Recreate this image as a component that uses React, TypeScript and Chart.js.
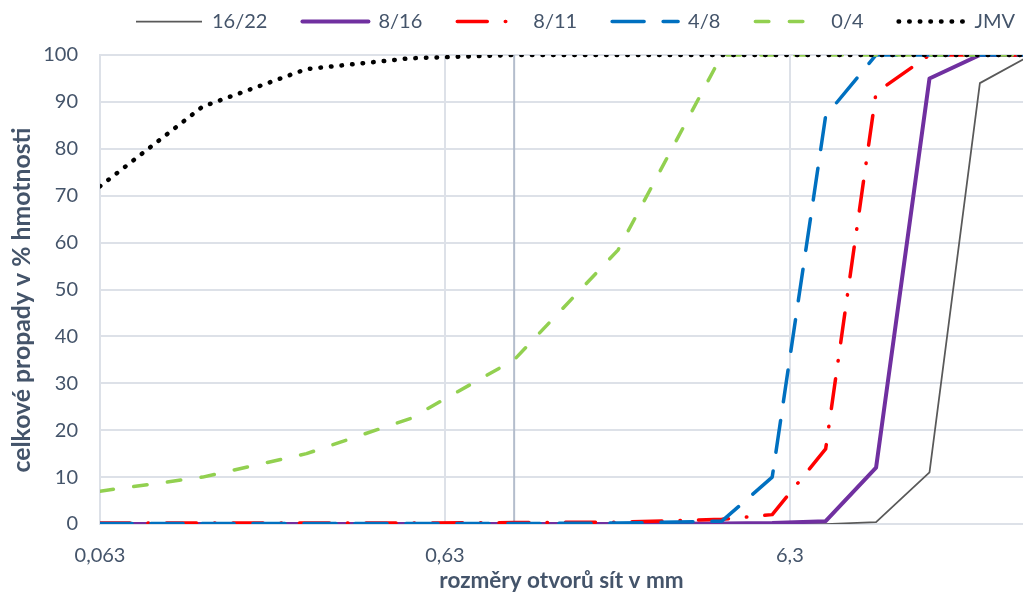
import React, { useEffect, useRef } from 'react';
import { Chart, registerables } from 'chart.js';

Chart.register(...registerables);

// sieve sizes (mm)
const sieves = [0.063, 0.125, 0.25, 0.5, 1, 2, 4, 5.6, 8, 11.2, 16, 22.4, 31.5];
// cumulative passing (%)
const s16_22 = [0, 0, 0, 0, 0, 0, 0, 0, 0, 0.4, 11, 94, 100];
const s8_16 = [0, 0, 0, 0, 0, 0, 0.1, 0.2, 0.6, 12, 95, 100, 100];
const s8_11 = [0.2, 0.2, 0.2, 0.2, 0.3, 0.4, 1.0, 2, 16, 92, 100, 100, 100];
const s4_8 = [0.1, 0.1, 0.1, 0.1, 0.1, 0.2, 0.6, 10, 87, 100, 100, 100, 100];
const s0_4 = [7, 10, 15, 22.5, 35, 58.4, 100, 100, 100, 100, 100, 100, 100];
const jmv = [72, 89, 97, 99.3, 100, 100, 100, 100, 100, 100, 100, 100, 100];

const xTicks = [0.063, 0.63, 6.3];
const xTickLabels = ['0,063', '0,63', '6,3'];
const xMin = 0.063;
const xMax = 29.87;
const refLineValue = 1;

const X_TITLE = 'rozměry otvorů sít v mm';
const Y_TITLE = 'celkové propady v % hmotnosti';

const TEXT = '#44546a';
const GRID = '#dde1e8';
const FONT = 'Lato';

const pts = (arr: number[]) => sieves.map((s, i) => ({ x: s, y: arr[i] }));

function fitBoldSize(text: string, target: number): number {
  const c = document.createElement('canvas').getContext('2d')!;
  c.font = `bold 20px ${FONT}`;
  const w = c.measureText(text).width;
  return Math.round((20 * target / w) * 10) / 10;
}

const refLinePlugin = {
  id: 'refLine',
  beforeDatasetsDraw(chart: any) {
    const x = chart.scales.x.getPixelForValue(refLineValue);
    const { top, bottom } = chart.chartArea;
    const ctx = chart.ctx;
    ctx.save();
    ctx.strokeStyle = '#b4bdcc';
    ctx.lineWidth = 2;
    ctx.beginPath();
    ctx.moveTo(x, top);
    ctx.lineTo(x, bottom);
    ctx.stroke();
    ctx.restore();
  },
};

const LEGEND_PAD = 35;
const legendPlace = {
  id: 'legendPlace',
  afterLayout(chart: any) {
    const l = chart.legend;
    if (!l) return;
    const h = l.bottom - l.top;
    l.left = 136 - LEGEND_PAD;
    l.right = l.left + 2000;
    l.top = 21.5 - LEGEND_PAD - 10;
    l.bottom = l.top + h;
  },
};

export default function App() {
  const ref = useRef<HTMLCanvasElement>(null);
  useEffect(() => {
    document.body.style.margin = '0';
    Chart.defaults.font.family = FONT;
    Chart.defaults.color = TEXT;
    const xTitleSize = fitBoldSize(X_TITLE, 244);
    const yTitleSize = fitBoldSize(Y_TITLE, 345);
    const yTitlePlugin = {
      id: 'yTitle',
      afterDraw(chart: any) {
        const ctx = chart.ctx;
        ctx.save();
        ctx.translate(22, 300);
        ctx.rotate(-Math.PI / 2);
        ctx.font = `bold ${yTitleSize}px ${FONT}`;
        ctx.fillStyle = TEXT;
        ctx.textAlign = 'center';
        ctx.textBaseline = 'middle';
        ctx.fillText(Y_TITLE, 0, 0);
        ctx.restore();
      },
    };
    const common = { pointRadius: 0, pointHoverRadius: 0, tension: 0, fill: false, borderJoinStyle: 'round' as const };
    const chart = new Chart(ref.current!, {
      type: 'line',
      data: {
        datasets: [
          { ...common, label: 'JMV', data: pts(jmv), borderColor: '#000000', backgroundColor: '#000000', borderWidth: 4.5, borderDash: [0.5, 10.1], borderCapStyle: 'round' },
          { ...common, label: '0/4', data: pts(s0_4), borderColor: '#92d050', backgroundColor: '#92d050', borderWidth: 3.5, borderDash: [13.5, 20.5], borderCapStyle: 'round' },
          { ...common, label: '4/8', data: pts(s4_8), borderColor: '#0070c0', backgroundColor: '#0070c0', borderWidth: 3.5, borderDash: [32, 19], borderCapStyle: 'round' },
          { ...common, label: '8/11', data: pts(s8_11), borderColor: '#ff0000', backgroundColor: '#ff0000', borderWidth: 3.5, borderDash: [30, 18, 0.5, 18], borderCapStyle: 'round' },
          { ...common, label: '8/16', data: pts(s8_16), borderColor: '#7030a0', backgroundColor: '#7030a0', borderWidth: 4, borderCapStyle: 'round' },
          { ...common, label: '16/22', data: pts(s16_22), borderColor: '#595959', backgroundColor: '#595959', borderWidth: 1.75, borderCapStyle: 'butt' },
        ],
      },
      options: {
        responsive: false,
        animation: false,
        events: [],
        layout: { padding: { top: 55 - (20 + LEGEND_PAD + 10), left: 0, right: 0, bottom: 0 } },
        plugins: {
          tooltip: { enabled: false },
          legend: {
            position: 'top',
            align: 'start',
            reverse: true,
            labels: {
              usePointStyle: true,
              pointStyle: 'line',
              pointStyleWidth: 66,
              padding: LEGEND_PAD,
              color: TEXT,
              font: { family: FONT, size: 20 },
              generateLabels: (chart: any) =>
                chart.data.datasets.map((ds: any, i: number) => ({
                  text: ds.label,
                  datasetIndex: i,
                  hidden: false,
                  fillStyle: ds.borderColor,
                  strokeStyle: ds.borderColor,
                  lineWidth: ds.borderWidth,
                  lineDash: ds.borderDash || [],
                  lineDashOffset: 0,
                  lineCap: ds.borderCapStyle,
                  lineJoin: 'round',
                  pointStyle: 'line',
                  rotation: 0,
                  fontColor: TEXT,
                })),
            },
          },
        },
        scales: {
          x: {
            type: 'logarithmic',
            min: xMin,
            max: xMax,
            bounds: 'data',
            afterBuildTicks: (axis: any) => {
              axis.ticks = xTicks.map((v) => ({ value: v }));
            },
            afterFit: (scale: any) => {
              scale.height = 68;
            },
            ticks: {
              autoSkip: false,
              maxRotation: 0,
              padding: 20,
              color: TEXT,
              font: { family: FONT, size: 20 },
              callback: (value: any) => {
                const i = xTicks.findIndex((t) => Math.abs(t - Number(value)) < 1e-9);
                return i >= 0 ? xTickLabels[i] : '';
              },
            },
            grid: { color: GRID, lineWidth: 2, drawTicks: false },
            border: { display: true, color: GRID, width: 2 },
            title: {
              display: true,
              text: X_TITLE,
              color: TEXT,
              font: { family: FONT, size: xTitleSize, weight: 'bold', lineHeight: 1 },
              padding: { top: 0, bottom: 0 },
            },
          },
          y: {
            type: 'linear',
            min: 0,
            max: 100,
            afterFit: (scale: any) => {
              scale.width = 100;
            },
            ticks: {
              stepSize: 10,
              padding: 22,
              color: TEXT,
              font: { family: FONT, size: 20 },
            },
            grid: { color: GRID, lineWidth: 2, drawTicks: false },
            border: { display: true, color: GRID, width: 2 },
            title: { display: false, text: Y_TITLE },
          },
        },
      },
      plugins: [refLinePlugin, legendPlace, yTitlePlugin],
    });
    return () => chart.destroy();
  }, []);
  return (
    <div style={{ width: 1023, height: 592 }}>
      <canvas ref={ref} width={1023} height={592} style={{ display: 'block' }} />
    </div>
  );
}
